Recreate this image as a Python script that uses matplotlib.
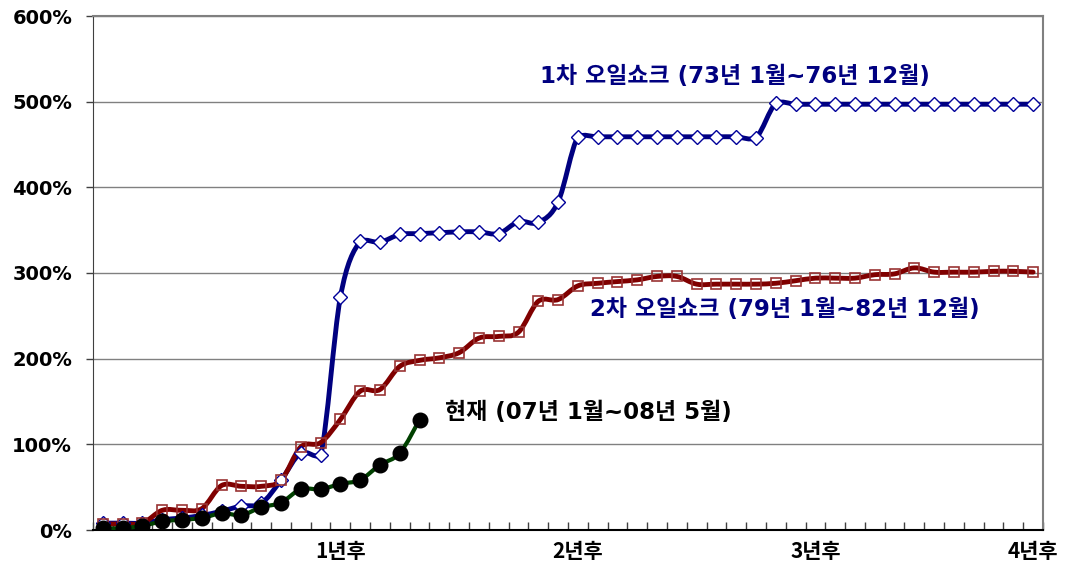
import matplotlib
matplotlib.use("Agg")
import matplotlib.pyplot as plt
import numpy as np
from matplotlib.path import Path
from matplotlib.patches import PathPatch

plt.rcParams["font.family"] = ["Noto Sans CJK KR", "DejaVu Sans"]

# months after the start of each shock (cumulative oil price rise, %)
shock1 = [8, 8, 8, 12, 14, 17, 22, 28, 31, 58, 90, 87,
          272, 337, 336, 345, 346, 347, 348, 348, 346, 360, 359, 383,
          459, 459, 459, 459, 459, 459, 459, 459, 459, 458, 498, 497,
          497, 497, 497, 497, 497, 497, 497, 497, 497, 497, 497, 497]
shock2 = [7, 7, 8, 23, 23, 25, 52, 51, 51, 58, 97, 102,
          129, 162, 164, 191, 198, 201, 207, 224, 226, 231, 267, 269,
          285, 288, 290, 292, 296, 296, 287, 287, 287, 287, 288, 291,
          294, 294, 294, 298, 299, 306, 301, 301, 301, 302, 302, 301]
current = [2, 2, 5, 10, 12, 14, 19.5, 17.5, 26.5, 32, 47.6, 47.6,
           53.8, 58.5, 76, 89.7, 128.7]

x_labels = ["1년후", "2년후", "3년후", "4년후"]
x_label_pos = [12, 24, 36, 47]
y_ticks = [0, 100, 200, 300, 400, 500, 600]

label1 = "1차 오일쇼크 (73년 1월~76년 12월)"
label2 = "2차 오일쇼크 (79년 1월~82년 12월)"
label3 = "현재 (07년 1월~08년 5월)"

TEXT_FONT = ["DejaVu Sans", "Noto Sans CJK KR"]


def smooth_path(xs, ys, k=1 / 6.0, slack=4.0):
    # bezier through the data points, similar to excel's smoothed line
    pts = np.column_stack([xs, ys]).astype(float)
    n = len(pts)
    verts = [pts[0]]
    codes = [Path.MOVETO]
    for i in range(n - 1):
        p0 = pts[i - 1] if i > 0 else pts[i]
        p1 = pts[i]
        p2 = pts[i + 1]
        p3 = pts[i + 2] if i + 2 < n else pts[i + 1]
        c1 = p1 + (p2 - p0) * k
        c2 = p2 - (p3 - p1) * k
        lo = min(p1[1], p2[1]) - slack
        hi = max(p1[1], p2[1]) + slack
        c1[1] = np.clip(c1[1], lo, hi)
        c2[1] = np.clip(c2[1], lo, hi)
        verts += [c1, c2, p2]
        codes += [Path.CURVE4] * 3
    return Path(verts, codes)


fig = plt.figure(figsize=(10.67, 5.73), dpi=100)
ax = fig.add_axes([93 / 1067, 43 / 573, 950 / 1067, 514 / 573])

for y in y_ticks[1:]:
    ax.axhline(y, color="#808080", lw=1, zorder=0)

series = [
    (shock1, "#000080", 3.5, "D", "white", "#000099", 7, 1.0),
    (shock2, "#800000", 3.5, "s", "none", "#993333", 7.5, 1.2),
    (current, "#004000", 3.0, "o", "black", "black", 10.5, 1.0),
]
for vals, col, lw, mk, fc, ec, ms, mew in series:
    xs = np.arange(len(vals))
    ax.add_patch(PathPatch(smooth_path(xs, vals), fill=False, edgecolor=col,
                           lw=lw, capstyle="round", joinstyle="round", zorder=3))
    ax.plot(xs, vals, ls="none", marker=mk, ms=ms, mfc=fc, mec=ec, mew=mew, zorder=4)

ax.set_xlim(-0.5, 47.5)
ax.set_ylim(0, 600)

ax.set_yticks(y_ticks)
ax.set_yticklabels([f"{v}%" for v in y_ticks], family="DejaVu Sans",
                   fontsize=14, fontweight="bold")
ax.tick_params(axis="y", direction="out", length=5, width=1, color="#404040", pad=10)

ax.set_xticks(np.arange(-0.5, 48, 1), minor=True)
ax.set_xticks(x_label_pos)
ax.set_xticklabels(x_labels, fontsize=15, fontweight="bold")
ax.tick_params(axis="x", which="major", length=0, pad=8)
ax.tick_params(axis="x", which="minor", direction="in", length=6, width=1, color="#404040")

for side in ["top", "right"]:
    ax.spines[side].set_color("#808080")
    ax.spines[side].set_linewidth(1.5)
ax.spines["left"].set_color("#404040")
ax.spines["bottom"].set_color("black")
ax.spines["bottom"].set_linewidth(1.5)

ax.text(22.1, 529, label1, color="#000080", fontsize=16.5, fontweight="bold",
        va="center", family=TEXT_FONT)
ax.text(24.6, 257, label2, color="#000080", fontsize=16.5, fontweight="bold",
        va="center", family=TEXT_FONT)
ax.text(17.3, 137, label3, color="black", fontsize=16.5, fontweight="bold",
        va="center", family=TEXT_FONT)

fig.savefig("out.png", dpi=100)
